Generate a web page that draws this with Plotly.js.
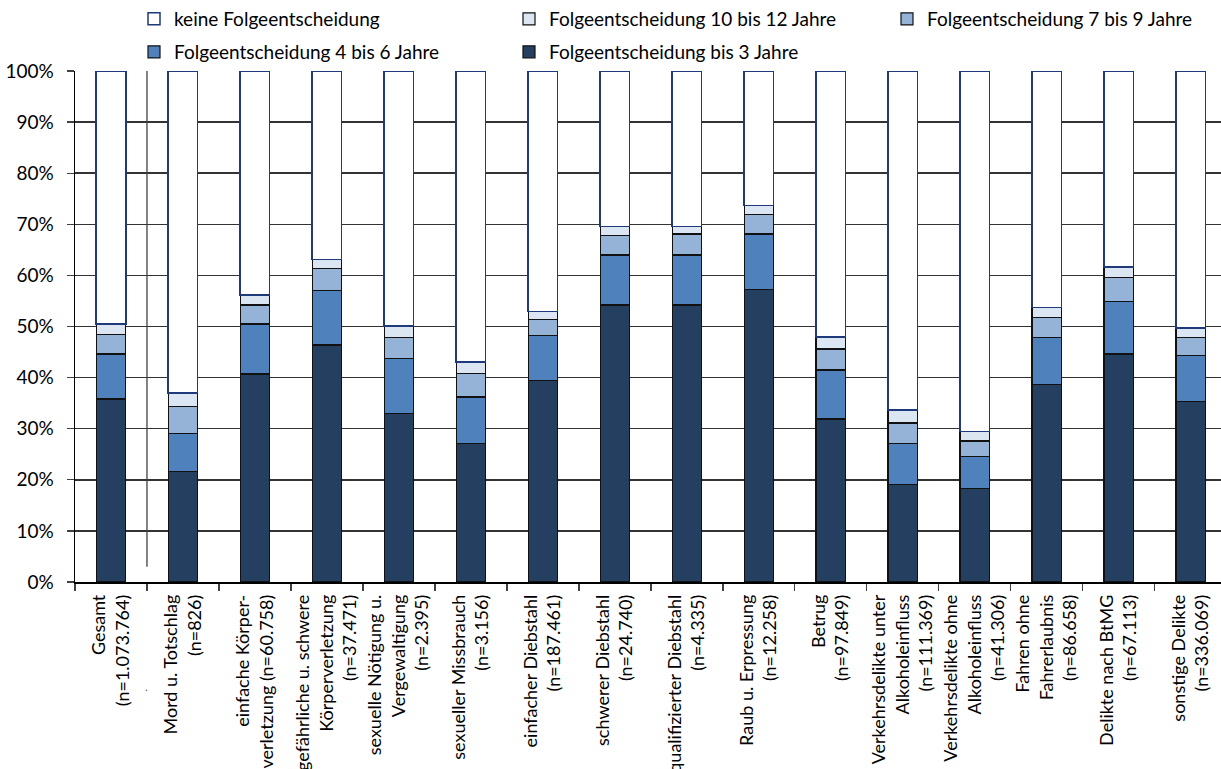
<!DOCTYPE html>
<html>
<head>
<meta charset="utf-8">
<script src="https://cdn.plot.ly/plotly-3.0.1.min.js"></script>
<style>html,body{margin:0;padding:0;background:#fff;overflow:hidden}</style>
</head>
<body>
<div id="chart" style="width:1221px;height:769px"></div>
<script>
const categories = [
  "Gesamt<br>(n=1.073.764)",
  "Mord u. Totschlag<br>(n=826)",
  "einfache Körper-<br>verletzung (n=60.758)",
  "gefährliche u. schwere<br>Körperverletzung<br>(n=37.471)",
  "sexuelle Nötigung u.<br>Vergewaltigung<br>(n=2.395)",
  "sexueller Missbrauch<br>(n=3.156)",
  "einfacher Diebstahl<br>(n=187.461)",
  "schwerer Diebstahl<br>(n=24.740)",
  "qualifizierter Diebstahl<br>(n=4.335)",
  "Raub u. Erpressung<br>(n=12.258)",
  "Betrug<br>(n=97.849)",
  "Verkehrsdelikte unter<br>Alkoholeinfluss<br>(n=111.369)",
  "Verkehrsdelikte ohne<br>Alkoholeinfluss<br>(n=41.306)",
  "Fahren ohne<br>Fahrerlaubnis<br>(n=86.658)",
  "Delikte nach BtMG<br>(n=67.113)",
  "sonstige Delikte<br>(n=336.069)"
];
const bis3   = [35.8, 21.6, 40.7, 46.4, 33.0, 27.1, 39.5, 54.2, 54.2, 57.2, 31.9, 19.1, 18.3, 38.6, 44.6, 35.4];
const j4bis6 = [ 8.8,  7.5,  9.8, 10.6, 10.8,  9.1,  8.7,  9.8,  9.8, 10.9,  9.6,  8.0,  6.3,  9.3, 10.3,  8.9];
const j7bis9 = [ 3.8,  5.3,  3.7,  4.3,  4.1,  4.6,  3.2,  3.8,  4.1,  3.8,  4.1,  4.0,  3.0,  3.8,  4.7,  3.6];
const j10bis12=[ 2.1,  2.6,  2.0,  1.8,  2.2,  2.3,  1.5,  1.8,  1.5,  1.8,  2.3,  2.6,  1.9,  2.0,  2.0,  1.8];
const keine  = [49.5, 63.0, 43.8, 36.9, 49.9, 56.9, 47.1, 30.4, 30.4, 26.3, 52.1, 66.3, 70.5, 46.3, 38.4, 50.3];
const yTickVals = [0,10,20,30,40,50,60,70,80,90,100];
const yTickText = ["0%","10%","20%","30%","40%","50%","60%","70%","80%","90%","100%"];

const FONT = "Lato, 'Open Sans', sans-serif";
const W = 1221, H = 769;

function tr(name, vals, color, lineColor, lw, leg) {
  return {
    type: "bar", name: name, x: categories, y: vals, width: 0.41,
    marker: {color: color, line: {color: lineColor, width: lw}},
    legend: leg, hoverinfo: "skip"
  };
}
const data = [
  tr("Folgeentscheidung bis 3 Jahre", bis3, "#243F60", "#111111", 1.2, "legend5"),
  tr("Folgeentscheidung 4 bis 6 Jahre", j4bis6, "#4F81BD", "#111111", 1.2, "legend4"),
  tr("Folgeentscheidung 7 bis 9 Jahre", j7bis9, "#95B3D7", "#111111", 1.2, "legend3"),
  tr("Folgeentscheidung 10 bis 12 Jahre", j10bis12, "#DCE6F2", "#111111", 1.2, "legend2"),
  tr("keine Folgeentscheidung", keine, "#FFFFFF", "#1F3A7A", 1.5, "legend")
];

function leg(px, py) {
  return {
    xref: "container", yref: "container", x: px / W, y: 1 - py / H,
    xanchor: "left", yanchor: "middle", orientation: "h",
    bgcolor: "rgba(0,0,0,0)", borderwidth: 0,
    font: {family: FONT, size: 19, color: "#000"},
    itemwidth: 30, tracegroupgap: 0
  };
}

const layout = {
  width: W, height: H,
  margin: {l: 75, r: 0, t: 69, b: 187, pad: 0},
  paper_bgcolor: "#fff", plot_bgcolor: "#fff",
  font: {family: FONT, size: 19, color: "#000"},
  barmode: "stack",
  bargap: 0.59,
  showlegend: true,
  legend: leg(134, 19),
  legend2: leg(509, 19),
  legend3: leg(887, 19),
  legend4: leg(134, 52),
  legend5: leg(509, 52),
  xaxis: {
    type: "category", range: [-0.5, 15.42], automargin: false,
    tickangle: -90, ticks: "outside", tickson: "boundaries", ticklen: 7,
    tickcolor: "#404040", tickwidth: 1.3,
    showline: true, linecolor: "#000", linewidth: 1.5,
    showgrid: false, zeroline: false, fixedrange: true,
    tickfont: {family: FONT, size: 18, color: "#000"},
    ticklabelstandoff: 4
  },
  yaxis: {
    range: [0, 100], tickvals: yTickVals, ticktext: yTickText,
    automargin: false, ticks: "outside", ticklen: 7,
    tickcolor: "#404040", tickwidth: 1.3,
    showline: true, linecolor: "#000", linewidth: 1.5,
    showgrid: true, gridcolor: "#333333", gridwidth: 1.5,
    zeroline: false, fixedrange: true,
    tickfont: {family: FONT, size: 19, color: "#000"},
    ticklabelstandoff: 9
  },
  shapes: [{
    type: "line", xref: "x", yref: "y", x0: 0.5, x1: 0.5, y0: 3, y1: 100,
    line: {color: "#404040", width: 1.3}, layer: "above"
  }],
  annotations: [{
    xref: "x", yref: "paper", x: 0.5, y: -0.205, text: ".", showarrow: false,
    font: {family: FONT, size: 12, color: "#666"}, xanchor: "center", yanchor: "middle"
  }]
};

Plotly.newPlot("chart", data, layout, {staticPlot: true, displayModeBar: false});
</script>
</body>
</html>
